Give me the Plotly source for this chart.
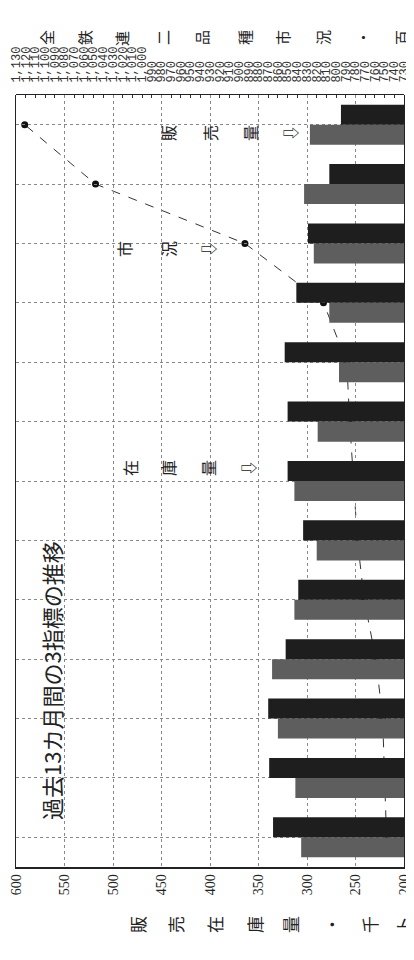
import plotly.graph_objects as go

# ---- data (months: oldest = 1 at bottom, newest = 13 at top) ----
months = list(range(1, 14))
sales = [306, 312, 330, 336, 313, 290, 313, 289, 267, 277, 293, 303, 297]   # 販売量 (grey)
stock = [335, 339, 340, 322, 309, 304, 320, 320, 323, 311, 299, 277, 265]   # 在庫量 (dark)
price = [748, 750, 752, 759, 771, 778, 782, 786, 789, 813, 894, 1048, 1121]  # 市況
qty_ticks = [600, 550, 500, 450, 400, 350, 300, 250, 200]
price_ticks = list(range(1130, 729, -10))
price_ticktext = [f"{v:,}" for v in price_ticks]
title_text = "過去13カ月間の3指標の推移"
left_title = "販売在庫量・千ト"
right_title = "全鉄連二品種市況・百"

CJK = "Noto Sans CJK JP"
OFF = 8                      # page margin offset of the rendered figure
W, H = 414 - OFF, 960 - OFF
L, R, T, B = 16 - OFF, 404 - OFF, 95 - OFF, 867 - OFF


def pp(x, y):
    x -= OFF
    y -= OFF
    return dict(x=(x - L) / (R - L), y=(B - y) / (B - T), xref="paper", yref="paper",
                xanchor="center", yanchor="middle")


fig = go.Figure()
# line on the lower subplot (drawn first, so the bars cover it)
fig.add_trace(go.Scatter(
    x=price, y=months, xaxis="x", yaxis="y", mode="lines+markers",
    line=dict(color="#333", width=1, dash="dash"),
    marker=dict(color="#111", size=7), showlegend=False))
fig.add_trace(go.Bar(
    x=sales, y=months, orientation="h", xaxis="x2", yaxis="y2",
    marker=dict(color="#5e5e5e", line_width=0), showlegend=False))
fig.add_trace(go.Bar(
    x=stock, y=months, orientation="h", xaxis="x2", yaxis="y2",
    marker=dict(color="#1e1e1e", line_width=0), showlegend=False))

ann = []
ann.append(dict(**pp(51, 681), text=title_text, showarrow=False, textangle=-90,
                font=dict(family=CJK, size=22, color="#222")))


def chars(text, xs, y, size):
    for ch, x in zip(text, xs):
        ann.append(dict(**pp(x, y), text=ch, showarrow=False, textangle=-90,
                        font=dict(family=CJK, size=size, color="#222")))


chars(left_title, [137, 175, 214, 254, 290, 331, 369, 402], 925, 17)
chars(right_title, [47, 85, 122, 163, 202, 245, 283, 323, 363, 402], 38, 15)

labels = [("販売量⇩", [168, 210, 250, 290], 133),
          ("市況⇩", [124, 168, 208], 249),
          ("在庫量⇩", [130, 168, 208, 248], 468)]
for text, xs, y in labels:
    chars(text, xs, y, 16)

fig.update_layout(
    width=W, height=H,
    margin=dict(l=L, r=W - R, t=T, b=H - B, autoexpand=False),
    paper_bgcolor="white", plot_bgcolor="rgba(0,0,0,0)",
    barmode="group", bargap=0.326, bargroupgap=0,
    showlegend=False,
    xaxis=dict(domain=[0, 1], anchor="y", side="top", range=[1130, 730],
               tickvals=price_ticks, ticktext=price_ticktext, tickangle=-90,
               ticks="inside", ticklen=3, tickcolor="#333", showgrid=False,
               zeroline=False, showline=True, linecolor="#222", linewidth=1,
               tickfont=dict(family="Liberation Mono", size=12, color="#333"),
               ticklabelstandoff=9, ticklabeloverflow="allow"),
    yaxis=dict(domain=[0, 1], anchor="x", range=[0.5, 13.5], visible=False),
    xaxis2=dict(domain=[0, 1], anchor="y2", side="bottom", range=[600, 200],
                tickvals=qty_ticks, tickangle=-90, showgrid=True, gridcolor="#888",
                griddash="dot", gridwidth=1, zeroline=False, showline=True,
                linecolor="#222", linewidth=1.5, ticks="",
                tickfont=dict(family="Liberation Serif", size=14, color="#222"),
                ticklabeloverflow="allow"),
    yaxis2=dict(domain=[0, 1], anchor="x2", range=[0.5, 13.5], tickvals=months,
                showticklabels=False, showgrid=True, gridcolor="#888", griddash="dot",
                zeroline=False, showline=True, mirror=True, linecolor="#222", ticks=""),
    annotations=ann,
)

fig.write_html("out.html")
